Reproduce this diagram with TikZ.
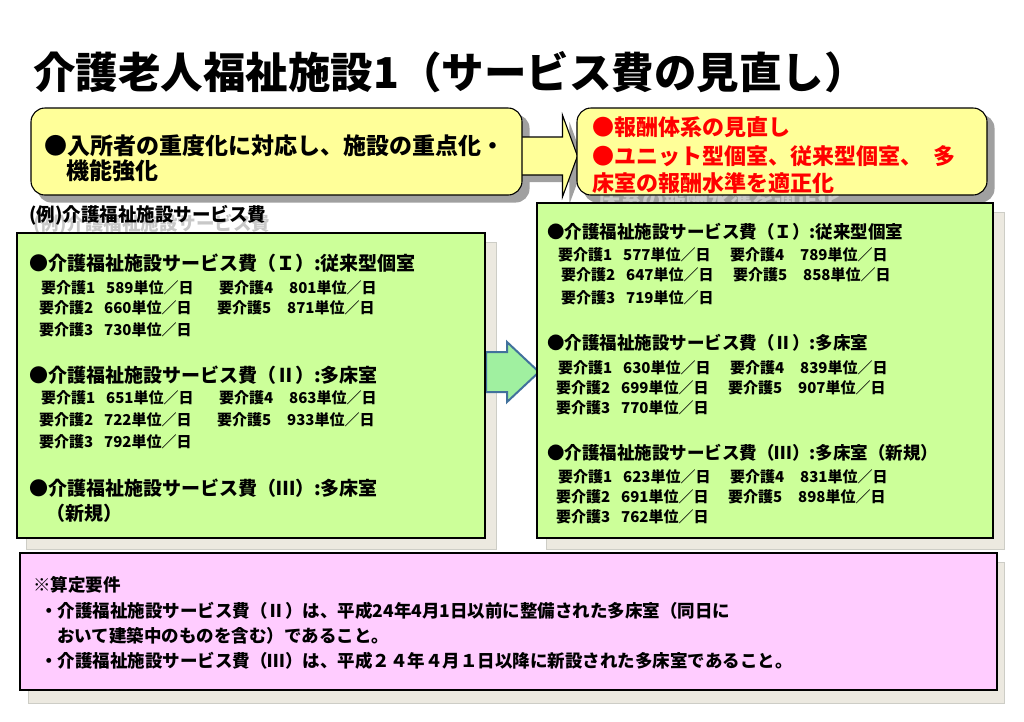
\documentclass[tikz,border=0pt]{standalone}
\usepackage{fontspec}
\setmainfont{Noto Sans CJK JP}
\usetikzlibrary{calc,backgrounds}
\definecolor{yfill}{RGB}{255,255,153}
\definecolor{gfill}{RGB}{204,255,153}
\definecolor{pfill}{RGB}{255,204,255}
\definecolor{afill}{RGB}{160,240,160}
\definecolor{aedge}{RGB}{65,113,156}
\definecolor{shgray}{RGB}{160,160,160}
\definecolor{shbeige}{RGB}{236,233,224}
\definecolor{shedge}{RGB}{205,205,198}
\definecolor{ghost}{RGB}{200,200,200}
\newcommand{\myrowL}[4]{\makebox[65pt][l]{#1}\makebox[113pt][l]{#2}\makebox[70pt][l]{#3}#4}
\newcommand{\myrowR}[4]{\makebox[65pt][l]{#1}\makebox[107pt][l]{#2}\makebox[70pt][l]{#3}#4}
\begin{document}
\begin{tikzpicture}[x=1pt,y=-1pt,
  ybox/.style={draw=black, line width=1.1pt, fill=yfill, rounded corners=14pt, inner sep=0},
  gbox/.style={draw=black, line width=2pt, fill=gfill, inner sep=0},
  pbox/.style={draw=black, line width=2pt, fill=pfill, inner sep=0},
  txt/.style={anchor=west, inner sep=0, font=\bfseries\fontsize{#1}{#1}\selectfont},
  txt/.default=15,
  redtxt/.style={txt=22, text=red},
  ysh/.style={fill=shgray, rounded corners=14pt},
  gsh/.style={fill=shbeige, draw=shedge, line width=0.8pt},
  yarrow/.style={draw=black, line width=1.1pt, fill=yfill},
  garrow/.style={draw=aedge, line width=2pt, fill=afill, line join=miter}
]
\useasboundingbox (0,0) rectangle (1024,721);

% title
\node[txt=42.5] (title) at (33,72) {介護老人福祉施設1（サービス費の見直し）};

% boxes
\node[ybox, minimum width=491pt, minimum height=87pt] (ly) at (276.5,151.5) {};
\node[ybox, minimum width=410pt, minimum height=87pt] (ry) at (782,151.5) {};
\node[gbox, minimum width=468pt, minimum height=305pt] (lg) at (251,385.5) {};
\node[gbox, minimum width=456pt, minimum height=335pt] (rg) at (765,370.5) {};
\node[pbox, minimum width=977pt, minimum height=137pt] (pk) at (508.5,621.5) {};

% texts in the yellow boxes
\node[txt=23] (l1) at (44,146) {●入所者の重度化に対応し、施設の重点化・};
\node[txt=23] (l2) at (66,171) {機能強化};
\node[redtxt] (r1) at (592,127) {●報酬体系の見直し};
\node[redtxt] (r2) at (592,156) {●ユニット型個室、従来型個室、\hspace{0.5em}多};
\node[redtxt] (r3) at (592,183) {床室の報酬水準を適正化};

% label
\node[txt=18.5] (lab) at (29,215) {(例)介護福祉施設サービス費};

% left green box
\node[txt=19] (a1) at (29,263) {●介護福祉施設サービス費（Ｉ）:従来型個室};
\node[txt] (a11) at (41,288) {\myrowL{要介護1}{589単位／日}{要介護4}{801単位／日}};
\node[txt] (a12) at (39,308) {\myrowL{要介護2}{660単位／日}{要介護5}{871単位／日}};
\node[txt] (a13) at (39,330) {\myrowL{要介護3}{730単位／日}{}{}};
\node[txt=19] (a2) at (29,375) {●介護福祉施設サービス費（Ⅱ）:多床室};
\node[txt] (a21) at (41,398) {\myrowL{要介護1}{651単位／日}{要介護4}{863単位／日}};
\node[txt] (a22) at (39,420) {\myrowL{要介護2}{722単位／日}{要介護5}{933単位／日}};
\node[txt] (a23) at (39,442) {\myrowL{要介護3}{792単位／日}{}{}};
\node[txt=19] (a3) at (29,488) {●介護福祉施設サービス費（Ⅲ）:多床室};
\node[txt=19] (a31) at (46,513) {（新規）};

% right green box
\node[txt=17.5] (b1) at (547,232) {●介護福祉施設サービス費（Ｉ）:従来型個室};
\node[txt] (b11) at (558,255) {\myrowR{要介護1}{577単位／日}{要介護4}{789単位／日}};
\node[txt] (b12) at (561,275) {\myrowR{要介護2}{647単位／日}{要介護5}{858単位／日}};
\node[txt] (b13) at (561,298) {\myrowR{要介護3}{719単位／日}{}{}};
\node[txt=17.5] (b2) at (547,343) {●介護福祉施設サービス費（Ⅱ）:多床室};
\node[txt] (b21) at (558,368) {\myrowR{要介護1}{630単位／日}{要介護4}{839単位／日}};
\node[txt] (b22) at (556,388) {\myrowR{要介護2}{699単位／日}{要介護5}{907単位／日}};
\node[txt] (b23) at (556,408) {\myrowR{要介護3}{770単位／日}{}{}};
\node[txt=17.5] (b3) at (547,453) {●介護福祉施設サービス費（Ⅲ）:多床室（新規）};
\node[txt] (b31) at (558,477) {\myrowR{要介護1}{623単位／日}{要介護4}{831単位／日}};
\node[txt] (b32) at (556,497) {\myrowR{要介護2}{691単位／日}{要介護5}{898単位／日}};
\node[txt] (b33) at (556,517) {\myrowR{要介護3}{762単位／日}{}{}};

% pink box
\node[txt=17.5] (p1) at (33,585) {※算定要件};
\node[txt=17.5] (p2) at (40,611) {・介護福祉施設サービス費（Ⅱ）は、平成24年4月1日以前に整備された多床室（同日に};
\node[txt=17.5] (p3) at (57,636) {おいて建築中のものを含む）であること。};
\node[txt=17.5] (p4) at (40,661) {・介護福祉施設サービス費（Ⅲ）は、平成２４年４月１日以降に新設された多床室であること。};

% arrow anchor points
\coordinate (ya) at ($(ly.east)+(-8,4.5)$);
\coordinate (yt) at ($(ry.west)+(1,4.5)$);
\coordinate (ga) at ($(lg.east)+(0,-13.5)$);
\coordinate (gt) at ($(rg.west)+(3,1.5)$);

\begin{scope}[on background layer]
  % shadows
  \fill[ysh] ($(ly.north west)+(7,7)$) rectangle ($(ly.south east)+(7,7)$);
  \fill[ysh] ($(ry.north west)+(7,7)$) rectangle ($(ry.south east)+(7,7)$);
  \filldraw[gsh] ($(lg.north west)+(10,10)$) rectangle ($(lg.south east)+(10,10)$);
  \filldraw[gsh] ($(rg.north west)+(10,10)$) rectangle ($(rg.south east)+(10,10)$);
  \filldraw[gsh] ($(pk.north west)+(9,10)$) rectangle ($(pk.south east)+(6,12)$);
  % ghost texts
  \node[txt=18.5, text=ghost] (labg) at (33,224) {(例)介護福祉施設サービス費};
  \node[txt=22, text=ghost] (r3g) at (598,200) {床室の報酬水準を適正化};
  % yellow arrow shadow
  \fill[shgray] ($(ya)+(7,-12)$) -- ($(yt)+(-8,-12)$) -- ($(yt)+(-8,-34)$) -- ($(yt)+(7,7)$)
     -- ($(yt)+(-8,48)$) -- ($(yt)+(-8,26)$) -- ($(ya)+(7,26)$) -- cycle;
  % yellow arrow
  \draw[yarrow] ($(ya)+(0,-19)$) -- ($(yt)+(-15,-19)$) -- ($(yt)+(-15,-41)$) -- (yt)
     -- ($(yt)+(-15,41)$) -- ($(yt)+(-15,19)$) -- ($(ya)+(0,19)$) -- cycle;
  % green arrow
  \draw[garrow] ($(ga)+(0,-20)$) -- ($(gt)+(-32,-20)$) -- ($(gt)+(-32,-30)$) -- (gt)
     -- ($(gt)+(-32,30)$) -- ($(gt)+(-32,20)$) -- ($(ga)+(0,20)$) -- cycle;
\end{scope}
\end{tikzpicture}
\end{document}
